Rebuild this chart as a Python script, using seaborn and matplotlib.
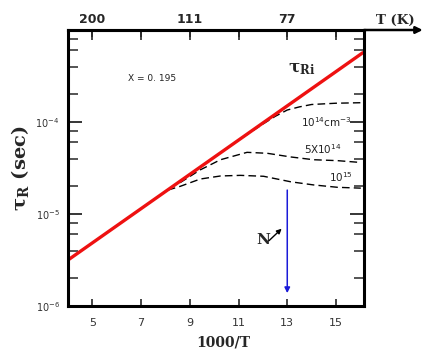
import matplotlib
matplotlib.use("Agg")
import matplotlib.pyplot as plt
import matplotlib.ticker as mticker
import numpy as np
import pandas as pd
import seaborn as sns

# ---- data ----
inv_T_top_ticks = [5, 7, 9, 11, 13, 15]
top_labels = ["200", "", "111", "", "77", ""]
x_ticks = [5, 7, 9, 11, 13, 15]

# intrinsic radiative lifetime tau_Ri (straight line on log scale)
ri_x = [4.0, 16.1]
ri_y = [3.16e-6, 5.66e-4]

# N = 1e14 cm^-3
n14_x = [10.0, 11.0, 12.0, 12.5, 13.0, 13.5, 14.0, 15.0, 16.0]
n14_y = [4.13e-5, 6.34e-5, 9.5e-5, 1.15e-4, 1.35e-4, 1.46e-4, 1.55e-4, 1.60e-4, 1.62e-4]

# N = 5e14 cm^-3
n5e14_x = [8.6, 9.43, 10.26, 11.35, 12.18, 13.14, 14.08, 15.07, 16.02]
n5e14_y = [2.19e-5, 3.02e-5, 3.89e-5, 4.68e-5, 4.57e-5, 4.17e-5, 3.89e-5, 3.80e-5, 3.63e-5]

# N = 1e15 cm^-3
n15_x = [8.1, 8.61, 9.43, 10.26, 11.08, 12.03, 13.14, 14.08, 15.07, 16.02]
n15_y = [1.82e-5, 2.0e-5, 2.4e-5, 2.59e-5, 2.63e-5, 2.57e-5, 2.24e-5, 2.07e-5, 1.95e-5, 1.91e-5]

# ---- figure ----
sns.set_theme(style="ticks")
plt.rcParams["font.family"] = ["DejaVu Sans"]

fig = plt.figure(figsize=(4.24, 3.6), dpi=100)
ax = fig.add_axes([68/424, 1-306/360, (364-68)/424, (306-30)/360])

dash = (5.5, 3)
for xs, ys in [(n14_x, n14_y), (n5e14_x, n5e14_y), (n15_x, n15_y)]:
    df = pd.DataFrame({"x": xs, "y": ys})
    sns.lineplot(data=df, x="x", y="y", ax=ax, color="black", lw=1.0,
                 linestyle=(0, dash), sort=False)

df_ri = pd.DataFrame({"x": ri_x, "y": ri_y})
sns.lineplot(data=df_ri, x="x", y="y", ax=ax, color="#ee1111", lw=2.4)

ax.set_yscale("log")
ax.set_xlim(4.0, 16.15)
ax.set_ylim(1e-6, 1e-3)

# y ticks
ax.yaxis.set_major_locator(mticker.FixedLocator([1e-6, 1e-5, 1e-4, 1e-3]))
ax.yaxis.set_major_formatter(mticker.FixedFormatter(
    [r"$\mathregular{10^{-6}}$", r"$\mathregular{10^{-5}}$", r"$\mathregular{10^{-4}}$", ""]))
ax.yaxis.set_minor_locator(mticker.LogLocator(base=10, subs=[2, 4, 6, 8]))
ax.yaxis.set_minor_formatter(mticker.NullFormatter())

ax.set_xticks(x_ticks)
ax.set_xticklabels([str(v) for v in x_ticks])

ax.tick_params(axis="y", which="major", direction="in", length=10, width=1.3,
               left=True, right=True, labelsize=7, labelcolor="#333333", pad=6)
ax.tick_params(axis="y", which="minor", direction="in", length=7, width=1.1,
               left=True, right=True)
ax.tick_params(axis="x", which="major", direction="in", length=5, width=1.2,
               bottom=True, top=True, labelsize=8, labelcolor="#333333", pad=9)

for s in ax.spines.values():
    s.set_linewidth(2.2)
    s.set_color("black")

ax.set_ylabel("τ$\\mathregular{_R}$ (sec)", fontfamily="DejaVu Serif", fontweight="bold",
              fontsize=14)
ax.yaxis.set_label_coords(-(68-31)/296, 0.5)
ax.set_xlabel("1000/T", fontfamily="DejaVu Serif", fontweight="bold", fontsize=10)
ax.xaxis.set_label_coords((223-68)/296, -(336-306)/276)

# top temperature axis
sec = ax.secondary_xaxis("top")
sec.set_xticks(inv_T_top_ticks)
sec.set_xticklabels(top_labels)
sec.tick_params(direction="in", length=7, width=1.2, labelsize=9, pad=3)
for lbl in sec.get_xticklabels():
    lbl.set_fontweight("bold")
sec.spines["top"].set_linewidth(2.2)

# arrow extending the top axis
ax.annotate("", xy=(0.997, 1-30/360), xycoords="figure fraction",
            xytext=(364/424, 1-30/360), textcoords="figure fraction",
            arrowprops=dict(arrowstyle="-|>", lw=1.8, color="black",
                            mutation_scale=10, shrinkA=0, shrinkB=0))
fig.text(395/424, 1-20/360, "T (K)", fontfamily="DejaVu Serif", fontweight="bold",
         fontsize=9.5, ha="center", va="center")

# annotations
ax.text(7.45, 10**-3.53, "X = 0. 195", fontsize=6.5, ha="center", va="center",
        color="#222222")
ax.text(13.6, 10**-3.42, "τ$\\mathregular{_{Ri}}$", fontsize=12, ha="center",
        va="center", fontfamily="DejaVu Serif", fontweight="bold")
ax.text(13.55, 10**-4.0, r"$\mathregular{10^{14}cm^{-3}}$", fontsize=7.5, ha="left",
        va="center", color="#222222")
ax.text(13.7, 10**-4.3, r"$\mathregular{5X10^{14}}$", fontsize=7.5, ha="left",
        va="center", color="#222222")
ax.text(14.7, 10**-4.6, r"$\mathregular{10^{15}}$", fontsize=7.5, ha="left",
        va="center", color="#222222")

# N arrow (direction of increasing doping)
ax.annotate("", xy=(13.0, 10**-5.86), xytext=(13.0, 10**-4.74),
            arrowprops=dict(arrowstyle="-|>", color="#1a1ad8", lw=1.1,
                            mutation_scale=8, shrinkA=0, shrinkB=0))
ax.text(12.0, 10**-5.28, "N", fontfamily="DejaVu Serif", fontweight="bold",
        fontsize=11, ha="center", va="center")
ax.annotate("", xy=(12.77, 10**-5.16), xytext=(12.25, 10**-5.29),
            arrowprops=dict(arrowstyle="-|>", color="black", lw=1.0,
                            mutation_scale=7, shrinkA=0, shrinkB=0))

fig.savefig("out.png", dpi=100)
